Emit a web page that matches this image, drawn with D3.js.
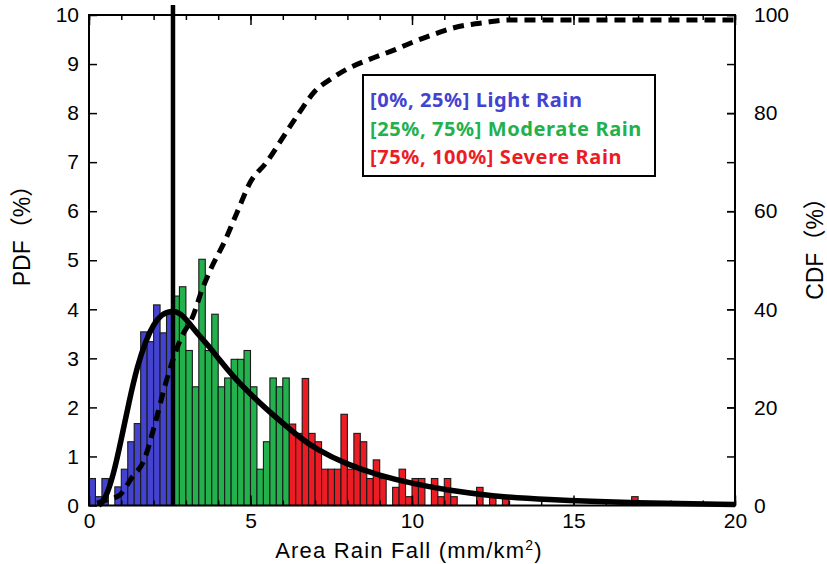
<!DOCTYPE html>
<html><head><meta charset="utf-8">
<script src="https://cdn.jsdelivr.net/npm/d3@7"></script>
<style>
html,body{margin:0;padding:0;background:#fff;}
svg{display:block;}
</style>
</head><body>
<svg id="chart" width="827" height="564"></svg>
<script>
// ---- data ----
const binWidth = 0.2;
// PDF (%) of each 0.2-wide bin starting at 0
const pdfValues = [
  0.55,0.18,0.55,0,0.38,0.74,1.30,1.67,3.54,3.34,
  4.09,3.52,3.90,4.27,4.46,3.16,2.42,5.02,3.16,3.90,
  2.42,2.60,2.98,2.98,3.16,2.42,0.74,1.30,2.60,2.42,
  2.60,1.66,1.47,2.59,1.47,1.30,0.74,0.74,0.74,1.86,
  0.74,1.47,1.30,0.55,0.93,0.55,0,0.37,0.74,0.18,
  0.55,0.55,0,0.55,0.18,0.55,0.18,0,0,0,
  0.37,0,0.18,0,0.18,0,0,0,0,0,
  0,0,0,0,0,0,0,0,0,0,
  0,0,0,0,0.18
];
const classBreaks = [2.6, 6.2];            // 25% and 75% boundaries
const classNames = ["[0%, 25%] Light Rain", "[25%, 75%] Moderate Rain", "[75%, 100%] Severe Rain"];
const classColors = ["#4343d0", "#22b14c", "#ed1c24"];
const markerX = 2.6;

// fitted PDF curve (left axis, %)
const fitX = [0.30,0.50,0.75,1.00,1.25,1.50,1.75,2.00,2.25,2.55,2.85,3.10,3.40,3.75,4.00,4.50,5.00,5.50,6.00,6.50,7.00,8.00,9.00,10.00,11.00,12.50,14.00,17.00,20.00];
const fitY = [0.00,0.12,0.60,1.35,2.15,2.85,3.35,3.70,3.90,3.98,3.92,3.72,3.47,3.22,3.00,2.60,2.27,1.96,1.68,1.40,1.16,0.83,0.61,0.45,0.32,0.19,0.12,0.05,0.02];

// empirical CDF (right axis, %)
const cdfX = [0.25,0.53,0.94,1.35,1.71,1.99,2.40,2.82,3.23,3.49,3.75,4.21,4.60,5.00,5.50,6.00,6.50,7.00,7.50,8.00,8.70,9.50,10.00,10.65,11.30,12.30,13.0,15.0,20.0];
const cdfY = [0.5,1.1,2.1,5.9,9.3,15.4,25.5,33.7,38.8,43.8,47.9,54.0,60.0,66.0,70.0,75.0,80.0,84.5,87.0,89.0,91.0,93.0,94.4,96.0,97.4,98.5,99.0,99.0,99.0];

const xTicks = [0,5,10,15,20];
const yLeftTicks = [0,1,2,3,4,5,6,7,8,9,10];
const yRightTicks = [0,20,40,60,80,100];

// ---- layout ----
const svg = d3.select("#chart");
const L = 89, R = 735, T = 15, B = 505.5;
const x = d3.scaleLinear().domain([0,20]).range([L,R]);
const yL = d3.scaleLinear().domain([0,10]).range([B,T]);
const yR = d3.scaleLinear().domain([0,100]).range([B,T]);
const tickFont = "'Liberation Sans', Arial, sans-serif";

// bars
const bins = pdfValues.map((v,i)=>({x0:i*binWidth, v}));
function colorOf(x0){ return x0 < classBreaks[0]-1e-9 ? classColors[0] : (x0 < classBreaks[1]-1e-9 ? classColors[1] : classColors[2]); }
svg.append("g").selectAll("rect").data(bins.filter(d=>d.v>0)).join("rect")
  .attr("x", d=>x(d.x0))
  .attr("width", d=>x(d.x0+binWidth)-x(d.x0))
  .attr("y", d=>yL(d.v))
  .attr("height", d=>yL(0)-yL(d.v))
  .attr("fill", d=>colorOf(d.x0))
  .attr("stroke", "#1a1a1a").attr("stroke-width", 1.1);

// vertical marker
svg.append("line").attr("x1",x(markerX)).attr("x2",x(markerX)).attr("y1",5).attr("y2",B)
  .attr("stroke","#000").attr("stroke-width",4.5);

// fitted PDF
const fitPts = fitX.map((v,i)=>[v,fitY[i]]);
svg.append("path").datum(fitPts)
  .attr("d", d3.line().x(d=>x(d[0])).y(d=>yL(d[1])).curve(d3.curveBasis))
  .attr("fill","none").attr("stroke","#000").attr("stroke-width",5.5);

// CDF dashed
const cdfPts = cdfX.map((v,i)=>[v,cdfY[i]]);
svg.append("path").datum(cdfPts)
  .attr("d", d3.line().x(d=>x(d[0])).y(d=>yR(d[1])).curve(d3.curveMonotoneX))
  .attr("fill","none").attr("stroke","#000").attr("stroke-width",5)
  .attr("stroke-dasharray","11,7");

// axes
function styleAxis(g){ g.select(".domain").remove(); g.selectAll(".tick line").attr("stroke","#000").attr("stroke-width",1.5);
  g.selectAll("text").attr("font-family",tickFont).attr("font-size",21).attr("fill","#000"); }
const minorX = d3.range(0,21,1);
svg.append("g").attr("transform",`translate(0,${B})`)
  .call(d3.axisBottom(x).tickValues(minorX).tickSize(-5).tickFormat(""))
  .call(styleAxis);
svg.append("g").attr("transform",`translate(0,${B})`)
  .call(d3.axisBottom(x).tickValues(xTicks).tickSize(-10).tickPadding(8).tickFormat(d3.format("d")))
  .call(styleAxis);
svg.append("g").attr("transform",`translate(0,${T})`)
  .call(d3.axisTop(x).tickValues(minorX).tickSize(-5).tickFormat(""))
  .call(styleAxis);
svg.append("g").attr("transform",`translate(0,${T})`)
  .call(d3.axisTop(x).tickValues(xTicks).tickSize(-10).tickFormat(""))
  .call(styleAxis);
svg.append("g").attr("transform",`translate(${L},0)`)
  .call(d3.axisLeft(yL).tickValues(yLeftTicks).tickSize(-8).tickPadding(10).tickFormat(d3.format("d")))
  .call(styleAxis);
svg.append("g").attr("transform",`translate(${R},0)`)
  .call(d3.axisRight(yR).tickValues(d3.range(0,101,10)).tickSize(-8).tickFormat(""))
  .call(styleAxis);
svg.append("g").attr("transform",`translate(${R},0)`)
  .call(d3.axisRight(yR).tickValues(yRightTicks).tickSize(-8).tickPadding(19).tickFormat(d3.format("d")))
  .call(styleAxis);

// frame
svg.append("rect").attr("x",L).attr("y",T).attr("width",R-L).attr("height",B-T)
  .attr("fill","none").attr("stroke","#000").attr("stroke-width",2);

// axis titles
svg.append("text").attr("x",409).attr("y",558).attr("text-anchor","middle")
  .attr("font-family",tickFont).attr("font-size",22).attr("letter-spacing",1.2)
  .html("Area Rain Fall (mm/km<tspan dy='-8' font-size='14'>2</tspan><tspan dy='8'>)</tspan>");
svg.append("text").attr("transform","translate(30,230) rotate(-90)").attr("text-anchor","middle")
  .attr("font-family","'Liberation Sans', 'Noto Sans CJK SC', sans-serif").attr("font-size",23)
  .text("PDF（%）");
svg.append("text").attr("transform","translate(823,243) rotate(-90)").attr("text-anchor","middle")
  .attr("font-family","'Liberation Sans', 'Noto Sans CJK SC', sans-serif").attr("font-size",23)
  .text("CDF（%）");

// legend
svg.append("rect").attr("x",363).attr("y",75).attr("width",292).attr("height",101)
  .attr("fill","#fff").attr("stroke","#000").attr("stroke-width",2);
classNames.forEach((t,i)=>{
  svg.append("text").attr("x",370).attr("y",107+i*28.5)
    .attr("font-family","'Noto Sans', 'Open Sans', sans-serif").attr("font-weight","bold").attr("font-size",20)
    .attr("letter-spacing",0.6)
    .attr("fill",classColors[i]).text(t);
});
</script>
</body></html>
